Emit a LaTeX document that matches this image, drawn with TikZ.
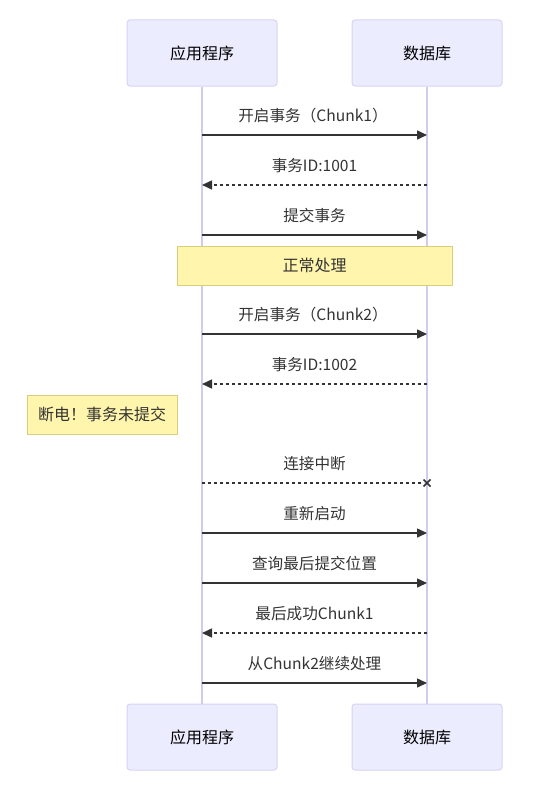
\documentclass[tikz,border=0pt]{standalone}
\usepackage{fontspec}
\setmainfont{Noto Sans CJK SC}
\usetikzlibrary{arrows.meta}
\definecolor{actfill}{HTML}{ECECFF}
\definecolor{actline}{HTML}{D8D3F5}
\definecolor{lifecol}{HTML}{D3CBEF}
\definecolor{msgcol}{HTML}{333333}
\definecolor{notefill}{HTML}{FFF5AD}
\definecolor{noteline}{HTML}{D6D07C}
\tikzset{
  actor/.style={draw=actline, fill=actfill, rounded corners=3pt, line width=1pt,
    minimum width=150pt, minimum height=66pt, inner sep=0pt,
    font=\fontsize{16}{19}\selectfont, text=black},
  life/.style={draw=lifecol, line width=1.5pt},
  msgline/.style={draw=msgcol, line width=1.5pt},
  solidmsg/.style={msgline, -{Triangle[length=10pt,width=9pt]}},
  dashmsg/.style={msgline, dash pattern=on 3pt off 3pt, -{Triangle[length=10pt,width=9pt]}},
  lostmsg/.style={msgline, dash pattern=on 3pt off 3pt},
  msglabel/.style={font=\fontsize{15.6}{18}\selectfont, text=msgcol, inner sep=0pt},
  notebox/.style={draw=noteline, fill=notefill, line width=1pt, inner sep=0pt,
    minimum height=39pt, font=\fontsize{16}{19}\selectfont, text=msgcol},
}
\begin{document}
\begin{tikzpicture}[x=1pt,y=-1pt]
\useasboundingbox (0,0) rectangle (542,792);
% actors
\node[actor] (appT) at (202,53) {应用程序};
\node[actor] (dbT) at (427,53) {数据库};
\node[actor] (appB) at (202,737) {应用程序};
\node[actor] (dbB) at (427,737) {数据库};
\draw[life] (appT.south) -- (appB.north);
\draw[life] (dbT.south) -- (dbB.north);
% anchor points
\foreach \n/\y in {1/135,2/185,3/235,5/334,6/384,8/483,9/533,10/583,11/633,12/683}{
  \coordinate (a\n) at (202,\y);
  \coordinate (d\n) at (427,\y);
}
\coordinate (x8) at (424,483);
% notes
\node[notebox, minimum width=275pt] (note1) at (314.5,265.5) {正常处理};
\node[notebox, minimum width=150pt] (note2) at (102,414.5) {断电！事务未提交};
% messages
\draw[solidmsg] (a1) -- (d1);
\node[msglabel] (l1) at (313,115.5) {开启事务（Chunk1）};
\draw[dashmsg] (d2) -- (a2);
\node[msglabel] (l2) at (314.5,165.5) {事务ID:1001};
\draw[solidmsg] (a3) -- (d3);
\node[msglabel] (l3) at (314.5,215.5) {提交事务};
\draw[solidmsg] (a5) -- (d5);
\node[msglabel] (l5) at (313,314.5) {开启事务（Chunk2）};
\draw[dashmsg] (d6) -- (a6);
\node[msglabel] (l6) at (314.5,364.5) {事务ID:1002};
\draw[lostmsg] (a8) -- (x8);
\draw[msgcol, line width=1.5pt] ([shift={(-3.5,-3.5)}]d8) -- ([shift={(3.5,3.5)}]d8)
  ([shift={(-3.5,3.5)}]d8) -- ([shift={(3.5,-3.5)}]d8);
\node[msglabel] (l8) at (314.5,463.5) {连接中断};
\draw[solidmsg] (a9) -- (d9);
\node[msglabel] (l9) at (314.5,513.5) {重新启动};
\draw[solidmsg] (a10) -- (d10);
\node[msglabel] (l10) at (314.5,563.5) {查询最后提交位置};
\draw[dashmsg] (d11) -- (a11);
\node[msglabel] (l11) at (314.5,613.5) {最后成功Chunk1};
\draw[solidmsg] (a12) -- (d12);
\node[msglabel] (l12) at (314.5,663.5) {从Chunk2继续处理};
\end{tikzpicture}
\end{document}
